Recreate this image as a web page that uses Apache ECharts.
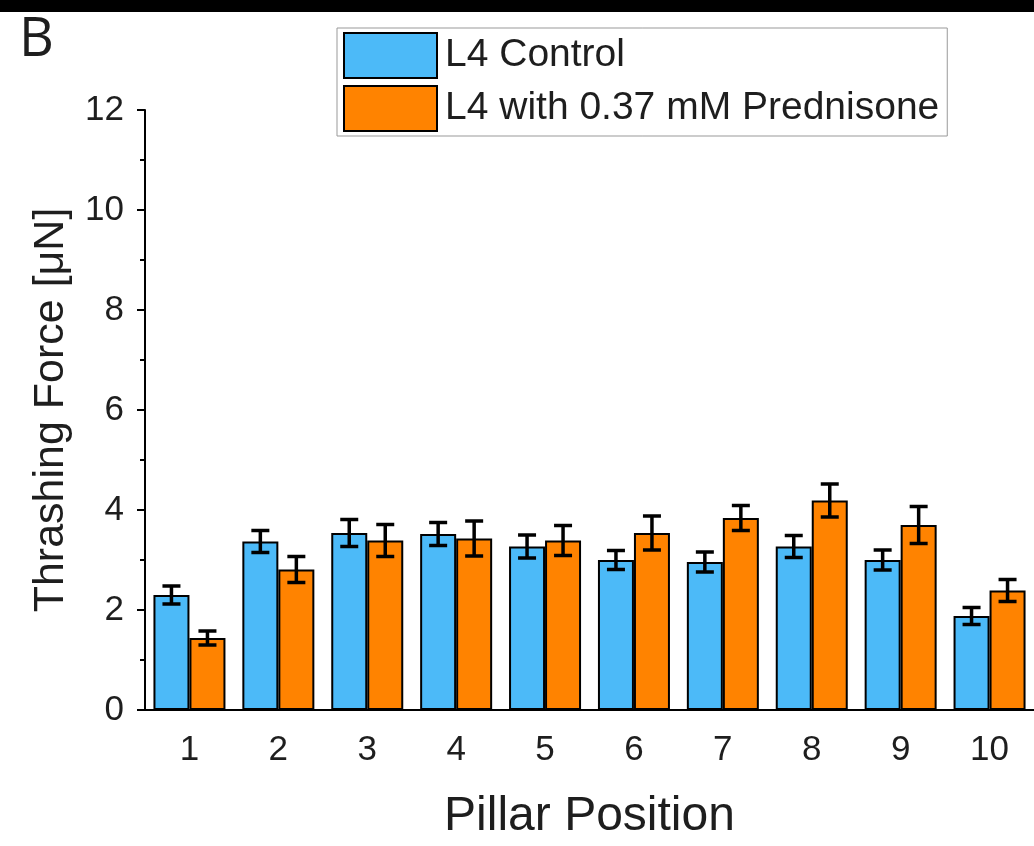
<!DOCTYPE html>
<html>
<head>
<meta charset="utf-8">
<script src="https://cdn.jsdelivr.net/npm/echarts@6/dist/echarts.min.js"></script>
<style>
  html, body { margin: 0; padding: 0; background: #fff; }
</style>
</head>
<body>
<div id="main" style="width:1034px;height:846px;"></div>
<script>
// pillar positions on the x axis
var positions = ['1', '2', '3', '4', '5', '6', '7', '8', '9', '10'];
// mean thrashing force [uN]
var controlMean = [2.30, 3.37, 3.54, 3.52, 3.27, 3.00, 2.96, 3.27, 3.00, 1.88];
var controlErr  = [0.18, 0.22, 0.27, 0.23, 0.23, 0.19, 0.20, 0.22, 0.20, 0.17];
var predMean    = [1.44, 2.81, 3.39, 3.43, 3.39, 3.54, 3.84, 4.19, 3.70, 2.39];
var predErr     = [0.14, 0.26, 0.32, 0.35, 0.30, 0.34, 0.25, 0.33, 0.37, 0.22];
var yTicks = [0, 2, 4, 6, 8, 10, 12];

var font = '"Liberation Sans", Arial, sans-serif';
var textColor = '#1e1e1e';
var barW = 36;

// data for the error bars: [index, low, high]
function errData(mean, err) {
    return mean.map(function (m, i) { return [i, m - err[i], m + err[i]]; });
}

// draws one error bar, shifted to sit on its bar
function errRenderer(offset) {
    return function (params, api) {
        var i = api.value(0);
        var lo = api.coord([i, api.value(1)]);
        var hi = api.coord([i, api.value(2)]);
        var x = lo[0] + offset;
        var cap = 9;
        var st = { stroke: '#000', lineWidth: 3.5 };
        return {
            type: 'group',
            children: [
                { type: 'line', shape: { x1: x, y1: hi[1], x2: x, y2: lo[1] }, style: st },
                { type: 'line', shape: { x1: x - cap, y1: hi[1], x2: x + cap, y2: hi[1] }, style: st },
                { type: 'line', shape: { x1: x - cap, y1: lo[1], x2: x + cap, y2: lo[1] }, style: st }
            ]
        };
    };
}

var myChart = echarts.init(document.getElementById('main'));
myChart.setOption({
    animation: false,
    backgroundColor: '#fff',
    textStyle: { fontFamily: font, color: textColor },
    graphic: [
        { type: 'rect', left: 0, top: 0, shape: { width: 1034, height: 12 }, style: { fill: '#000' } },
        { type: 'text', left: 19, top: 14, style: { text: 'B', font: '54px "Open Sans", ' + font, fill: textColor } }
    ],
    legend: {
        data: ['L4 Control', 'L4 with 0.37 mM Prednisone'],
        orient: 'vertical',
        left: 337,
        top: 28,
        itemWidth: 93,
        itemHeight: 45,
        itemGap: 6,
        padding: [4, 8, 4, 6],
        borderColor: '#999',
        borderWidth: 1,
        icon: 'rect',
        textStyle: { fontFamily: font, fontSize: 39, color: textColor, padding: [0, 0, 0, 3] }
    },
    grid: { left: 145, top: 110, width: 890, height: 605 },
    xAxis: {
        type: 'category',
        data: positions,
        name: 'Pillar Position',
        nameLocation: 'middle',
        nameGap: 83,
        nameTextStyle: { fontFamily: font, fontSize: 48, color: textColor },
        axisLine: { lineStyle: { color: '#000', width: 2 } },
        axisTick: { alignWithLabel: true, length: 10, lineStyle: { color: '#000', width: 2 } },
        axisLabel: { fontFamily: font, fontSize: 35, color: textColor, margin: 23 }
    },
    yAxis: {
        type: 'value',
        min: 0,
        max: 12,
        interval: 2,
        name: 'Thrashing Force [μN]',
        nameLocation: 'middle',
        nameGap: 72,
        nameTextStyle: { fontFamily: font, fontSize: 43, color: textColor },
        splitLine: { show: false },
        axisLine: { show: true, lineStyle: { color: '#000', width: 2 } },
        axisTick: { show: true, length: 8, lineStyle: { color: '#000', width: 2 } },
        minorTick: { show: true, splitNumber: 2, length: 5, lineStyle: { color: '#000', width: 2 } },
        axisLabel: {
            fontFamily: font, fontSize: 35, color: textColor, margin: 21,
            formatter: function (v) { return yTicks.indexOf(v) >= 0 ? String(v) : ''; }
        }
    },
    series: [
        {
            name: 'L4 Control',
            type: 'bar',
            data: controlMean,
            barWidth: barW,
            barGap: '0%',
            itemStyle: { color: '#4CBAF8', borderColor: '#000', borderWidth: 2 }
        },
        {
            name: 'L4 with 0.37 mM Prednisone',
            type: 'bar',
            data: predMean,
            barWidth: barW,
            barGap: '0%',
            itemStyle: { color: '#FF8300', borderColor: '#000', borderWidth: 2 }
        },
        {
            name: 'controlErr',
            type: 'custom',
            data: errData(controlMean, controlErr),
            encode: { x: 0, y: [1, 2] },
            renderItem: errRenderer(-barW / 2),
            z: 10
        },
        {
            name: 'predErr',
            type: 'custom',
            data: errData(predMean, predErr),
            encode: { x: 0, y: [1, 2] },
            renderItem: errRenderer(barW / 2),
            z: 10
        }
    ]
});
</script>
</body>
</html>
